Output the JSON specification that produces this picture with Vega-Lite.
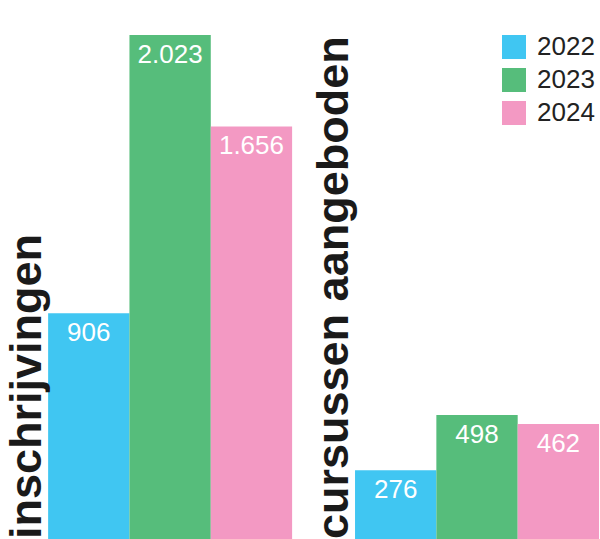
{
  "$schema": "https://vega.github.io/schema/vega-lite/v6.json",
  "width": 600,
  "height": 539,
  "padding": 0,
  "autosize": {"type": "none"},
  "config": {
    "view": {"stroke": null},
    "locale": {"number": {"decimal": ",", "thousands": ".", "grouping": [3], "currency": ["€", ""]}}
  },
  "data": {
    "values": [
      {"group": "inschrijvingen", "year": "2022", "value": 906},
      {"group": "inschrijvingen", "year": "2023", "value": 2023},
      {"group": "inschrijvingen", "year": "2024", "value": 1656},
      {"group": "cursussen aangeboden", "year": "2022", "value": 276},
      {"group": "cursussen aangeboden", "year": "2023", "value": 498},
      {"group": "cursussen aangeboden", "year": "2024", "value": 462}
    ]
  },
  "encoding": {
    "x": {
      "field": "group",
      "type": "nominal",
      "scale": {"domain": ["inschrijvingen", "cursussen aangeboden"], "paddingInner": 0.205, "paddingOuter": 0.08, "align": 0.98},
      "axis": null
    }
  },
  "layer": [
    {
      "mark": {"type": "bar"},
      "encoding": {
        "xOffset": {"field": "year", "type": "nominal", "scale": {"paddingInner": 0, "paddingOuter": 0}},
        "y": {"field": "value", "type": "quantitative", "scale": {"domain": [0, 2163.5], "nice": false}, "axis": null},
        "color": {
          "field": "year",
          "type": "nominal",
          "scale": {"domain": ["2022", "2023", "2024"], "range": ["#40C6F2", "#56BD7B", "#F399C3"]},
          "legend": {
            "title": null,
            "orient": "none",
            "legendX": 501,
            "legendY": 34,
            "symbolType": "square",
            "symbolSize": 576,
            "symbolStrokeWidth": 0,
            "symbolOpacity": 1,
            "labelFont": "Liberation Sans",
            "labelFontSize": 26,
            "labelColor": "#222222",
            "labelOffset": 10,
            "rowPadding": 7
          }
        }
      }
    },
    {
      "mark": {"type": "text", "baseline": "alphabetic", "dy": 28, "color": "white", "font": "Liberation Sans", "fontSize": 26},
      "encoding": {
        "xOffset": {"field": "year", "type": "nominal", "scale": {"paddingInner": 0, "paddingOuter": 0}},
        "y": {"field": "value", "type": "quantitative"},
        "text": {"field": "value", "type": "quantitative", "format": ","}
      }
    },
    {
      "data": {"values": [{"group": "inschrijvingen"}, {"group": "cursussen aangeboden"}]},
      "mark": {"type": "text", "angle": 270, "align": "left", "baseline": "alphabetic", "dy": -7, "font": "Liberation Sans", "fontSize": 45, "fontWeight": "bold", "color": "#1a1a1a"},
      "encoding": {
        "x": {"field": "group", "type": "nominal", "bandPosition": 0},
        "y": {"datum": 0, "type": "quantitative"},
        "text": {"field": "group", "type": "nominal"}
      }
    }
  ]
}
